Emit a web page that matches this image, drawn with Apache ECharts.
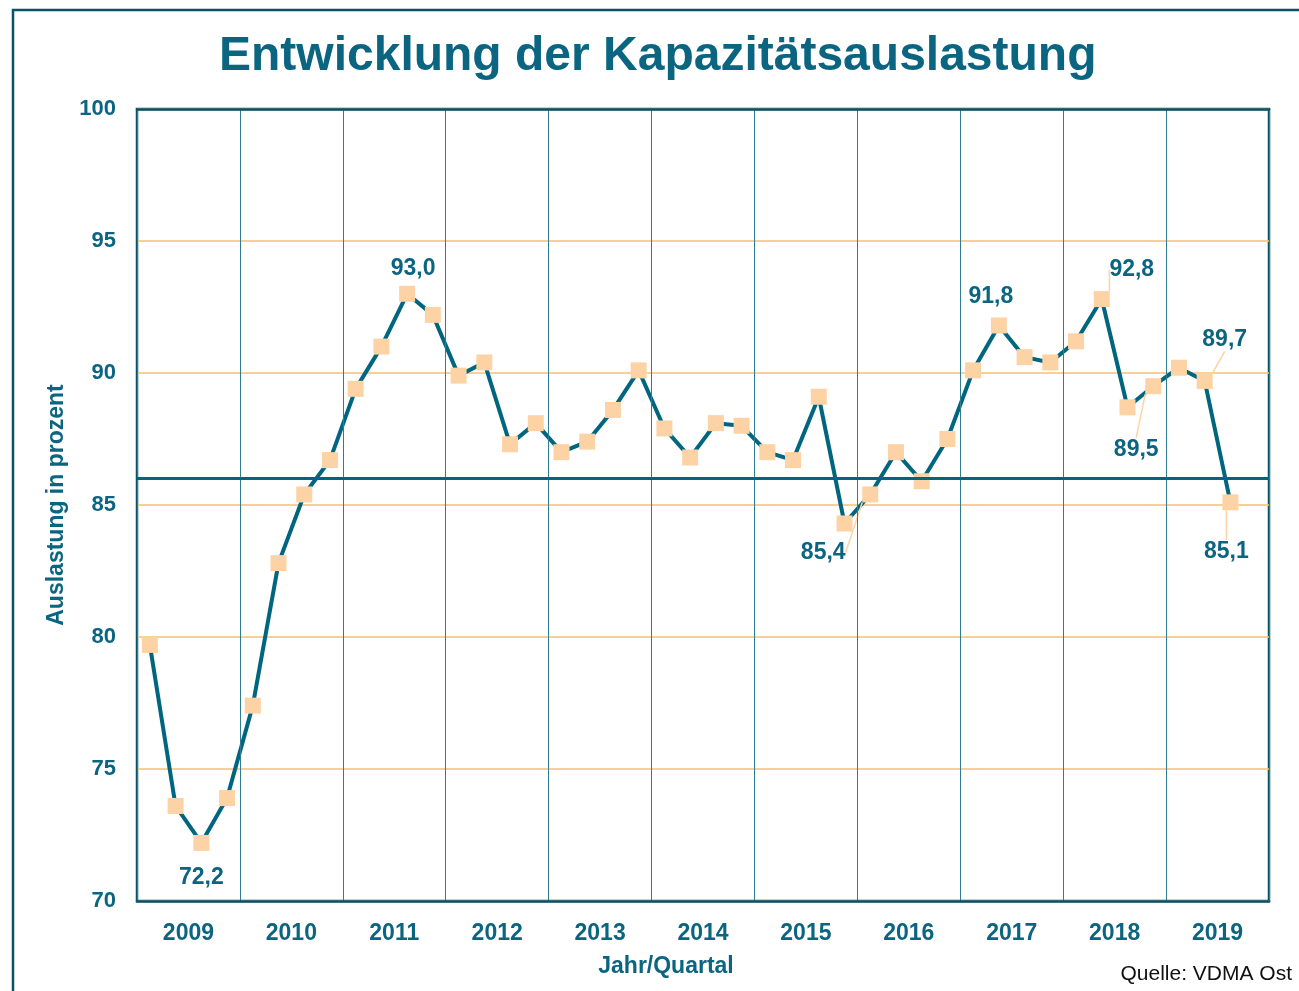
<!DOCTYPE html>
<html>
<head>
<meta charset="utf-8" />
<script src="https://cdn.jsdelivr.net/npm/echarts@6/dist/echarts.min.js"></script>
<title>Kapazitätsauslastung</title>
<style>
  html, body { margin: 0; padding: 0; background: #fff; }
  #main { width: 1299px; height: 991px; }
</style>
</head>
<body>
<div id="main"></div>
<script>
// Jahre (Beschriftung) und Quartale (Datenpunkte)
var years = ['2009', '2010', '2011', '2012', '2013', '2014', '2015', '2016', '2017', '2018', '2019'];
var quarters = [];
for (var y = 0; y < years.length; y++) {
  for (var q = 1; q <= 4; q++) quarters.push(years[y] + '/Q' + q);
}
// Auslastung in Prozent, 2009/Q1 bis 2019/Q3
var auslastung = [
  79.7, 73.6, 72.2, 73.9,
  77.4, 82.8, 85.4, 86.7,
  89.4, 91.0, 93.0, 92.2,
  89.9, 90.4, 87.3, 88.1,
  87.0, 87.4, 88.6, 90.1,
  87.9, 86.8, 88.1, 88.0,
  87.0, 86.7, 89.1, 84.3,
  85.4, 87.0, 85.9, 87.5,
  90.1, 91.8, 90.6, 90.4,
  91.2, 92.8, 88.7, 89.5,
  90.2, 89.7, 85.1
];
var durchschnitt = 86;
var yTicks = [70, 75, 80, 85, 90, 95, 100];

// beschriftete Punkte: Index -> [dx, dy, Hinweislinie]
var beschriftung = {
  2: [0, 35, false],
  10: [6, -25, false],
  28: [-47, 58, true],
  33: [-8, -29, false],
  37: [30, -29, true],
  39: [-17, 63, true],
  41: [20, -41, true],
  42: [-4, 49, true]
};

var teal = '#0b6580';
var dunkel = '#0a5366';
var pfirsich = '#fdd3a5';
var orange = '#f5c073';

var seriesData = auslastung.map(function (v, i) {
  var b = beschriftung[i];
  if (!b) return v;
  return {
    value: v,
    label: { show: true },
    labelLine: { show: b[2] }
  };
});

var myChart = echarts.init(document.getElementById('main'));
var option = {
  backgroundColor: '#fff',
  animation: false,
  title: {
    text: 'Entwicklung der Kapazitätsauslastung',
    left: 214,
    top: 28,
    textStyle: {
      color: teal,
      fontSize: 48,
      fontWeight: 'bold',
      fontFamily: 'Liberation Sans'
    }
  },
  graphic: [
    {
      type: 'rect',
      shape: { x: 13, y: 10, width: 1400, height: 1100 },
      style: { fill: 'none', stroke: dunkel, lineWidth: 2.5 },
      silent: true
    },
    {
      type: 'text',
      right: 7,
      top: 964,
      style: {
        text: 'Quelle: VDMA Ost',
        fill: '#111',
        font: '21px "Liberation Sans"'
      }
    }
  ],
  grid: {
    left: 137,
    right: 30,
    top: 109,
    bottom: 90,
    show: true,
    borderColor: dunkel,
    borderWidth: 2.5,
    backgroundColor: 'transparent'
  },
  xAxis: [
    {
      type: 'category',
      data: years,
      boundaryGap: true,
      position: 'bottom',
      z: 4,
      axisLine: { show: true, lineStyle: { color: dunkel, width: 2.5 } },
      axisTick: { show: false },
      axisLabel: {
        color: teal,
        fontSize: 23,
        fontWeight: 'bold',
        fontFamily: 'Liberation Sans',
        margin: 21,
        interval: 0
      },
      splitLine: { show: true, lineStyle: { color: '#2f7d93', width: 1 } },
      name: 'Jahr/Quartal',
      nameLocation: 'middle',
      nameGap: 54,
      nameTextStyle: {
        color: teal,
        fontSize: 23,
        fontWeight: 'bold',
        fontFamily: 'Liberation Sans',
        padding: [0, 74, 0, 0]
      }
    },
    {
      type: 'category',
      data: quarters,
      boundaryGap: true,
      position: 'top',
      z: 4,
      axisLine: { show: true, lineStyle: { color: dunkel, width: 2.5 } },
      axisTick: { show: false },
      axisLabel: { show: false },
      splitLine: { show: false }
    }
  ],
  yAxis: {
    type: 'value',
    min: yTicks[0],
    max: yTicks[yTicks.length - 1],
    interval: 5,
    axisLine: { show: false },
    axisTick: { show: false },
    axisLabel: {
      color: teal,
      fontSize: 22,
      fontWeight: 'bold',
      fontFamily: 'Liberation Sans',
      margin: 21
    },
    splitLine: { show: true, lineStyle: { color: orange, width: 1.5, opacity: 1 } },
    name: 'Auslastung in prozent',
    nameLocation: 'middle',
    nameGap: 66,
    nameTextStyle: {
      color: teal,
      fontSize: 23,
      fontWeight: 'bold',
      fontFamily: 'Liberation Sans'
    }
  },
  series: [
    {
      name: 'Auslastung',
      type: 'line',
      xAxisIndex: 1,
      data: seriesData,
      symbol: 'rect',
      symbolSize: 16,
      showAllSymbol: true,
      lineStyle: { color: '#00657f', width: 4 },
      itemStyle: { color: pfirsich, borderWidth: 0 },
      label: {
        show: false,
        position: 'inside',
        color: teal,
        fontSize: 23,
        fontWeight: 'bold',
        fontFamily: 'Liberation Sans',
        formatter: function (p) {
          return p.value.toFixed(1).replace('.', ',');
        }
      },
      labelLine: {
        show: false,
        lineStyle: { color: pfirsich, width: 1.5 }
      },
      labelLayout: function (p) {
        var b = beschriftung[p.dataIndex];
        if (!b) return {};
        return { dx: b[0], dy: b[1] };
      },
      markLine: {
        silent: true,
        symbol: 'none',
        label: { show: false },
        lineStyle: { color: '#00657f', width: 3, type: 'solid' },
        data: [{ yAxis: durchschnitt }]
      },
      z: 3
    }
  ]
};
myChart.setOption(option);
</script>
</body>
</html>
